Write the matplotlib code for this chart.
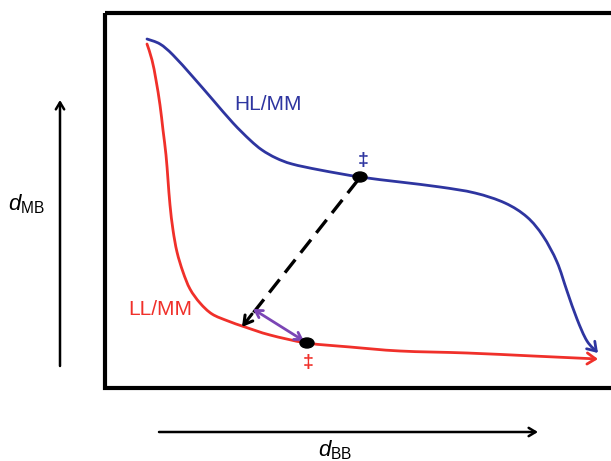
import matplotlib
matplotlib.use("Agg")
import matplotlib.pyplot as plt
from matplotlib.patches import Rectangle, Ellipse, FancyArrowPatch
from matplotlib.path import Path

plt.rcParams['font.family'] = ['Liberation Sans', 'DejaVu Sans']
plt.rcParams['mathtext.fontset'] = 'custom'
plt.rcParams['mathtext.rm'] = 'Liberation Sans'
plt.rcParams['mathtext.it'] = 'Liberation Sans:italic'

# Curves (coordinates in the schematic space)
hl_x = [147, 160, 173, 193, 213, 233, 250, 262, 276, 292, 320, 360, 400, 440, 475, 505, 527, 543, 557, 567, 577, 587, 598]
hl_y = [39, 44, 55, 77, 100, 123, 140, 150, 158, 164, 170, 177, 182, 187, 193, 203, 217, 236, 262, 291, 319, 341, 353]
ll_x = [147, 152, 156, 160, 163, 166, 168, 170, 173, 177, 183, 190, 200, 212, 228, 245, 270, 307, 350, 400, 467, 533, 598]
ll_y = [44, 60, 80, 105, 130, 155, 180, 205, 230, 252, 272, 289, 303, 314, 321, 327, 335, 343, 347, 351, 353, 356, 359]

hl_point = (360, 177)
ll_point = (307, 343)

BLUE = '#2e35a0'
RED = '#f0302a'
PURPLE = '#7b45b5'


def smooth_path(xs, ys):
    pts = list(zip(xs, ys))
    verts = [pts[0]]
    codes = [Path.MOVETO]
    n = len(pts)
    for i in range(n - 1):
        p0 = pts[i - 1] if i > 0 else pts[i]
        p1 = pts[i]
        p2 = pts[i + 1]
        p3 = pts[i + 2] if i + 2 < n else pts[i + 1]
        c1 = (p1[0] + (p2[0] - p0[0]) / 6, p1[1] + (p2[1] - p0[1]) / 6)
        c2 = (p2[0] - (p3[0] - p1[0]) / 6, p2[1] - (p3[1] - p1[1]) / 6)
        verts += [c1, c2, p2]
        codes += [Path.CURVE4] * 3
    return Path(verts, codes)


fig = plt.figure(figsize=(6.11, 4.61), dpi=100)
ax = fig.add_axes([0, 0, 1, 1])
ax.set_xlim(0, 611)
ax.set_ylim(461, 0)
ax.axis('off')

# frame
ax.add_patch(Rectangle((105, 13), 520, 375, fill=False, lw=3.0, ec='black'))

# curves with arrowheads
for xs, ys, col in [(hl_x, hl_y, BLUE), (ll_x, ll_y, RED)]:
    ax.add_patch(FancyArrowPatch(path=smooth_path(xs, ys),
                                 arrowstyle='->,head_length=6,head_width=4',
                                 color=col, lw=2.0, capstyle='round', joinstyle='round'))

# dashed arrow
ax.plot([hl_point[0] - 2, 250], [hl_point[1] + 3, 317], color='black', lw=2.4,
        dashes=(5, 2.6))
ax.annotate('', xy=(242, 327), xytext=(252, 314),
            arrowprops=dict(arrowstyle='->,head_length=0.6,head_width=0.35', color='black',
                            lw=2.2, shrinkA=0, shrinkB=0))
# purple double arrow
ax.annotate('', xy=(304, 341), xytext=(253, 309),
            arrowprops=dict(arrowstyle='<->,head_length=0.5,head_width=0.3', color=PURPLE,
                            lw=2.0, shrinkA=0, shrinkB=0))

# points
ax.add_patch(Ellipse(hl_point, 14, 10, color='black', zorder=5))
ax.add_patch(Ellipse(ll_point, 14, 10, color='black', zorder=5))

# double daggers
ax.text(363, 160, '\u2021', color=BLUE, fontsize=14, ha='center', va='center', fontweight='bold')
ax.text(308, 362, '\u2021', color=RED, fontsize=14, ha='center', va='center', fontweight='bold')

# labels
ax.text(268, 104, 'HL/MM', color=BLUE, fontsize=15, ha='center', va='center')
ax.text(160, 309, 'LL/MM', color=RED, fontsize=15, ha='center', va='center')

# axis arrows
ax.annotate('', xy=(60, 100), xytext=(60, 366),
            arrowprops=dict(arrowstyle='->,head_length=0.5,head_width=0.3', color='black', lw=1.8,
                            shrinkA=0, shrinkB=0))
ax.annotate('', xy=(538, 432), xytext=(159, 432),
            arrowprops=dict(arrowstyle='->,head_length=0.5,head_width=0.3', color='black', lw=1.8,
                            shrinkA=0, shrinkB=0))
ax.text(8, 204, r'$d_{\mathrm{MB}}$', fontsize=16, ha='left', va='center')
ax.text(335, 450, r'$d_{\mathrm{BB}}$', fontsize=16, ha='center', va='center')

fig.savefig('out.png', dpi=100)
